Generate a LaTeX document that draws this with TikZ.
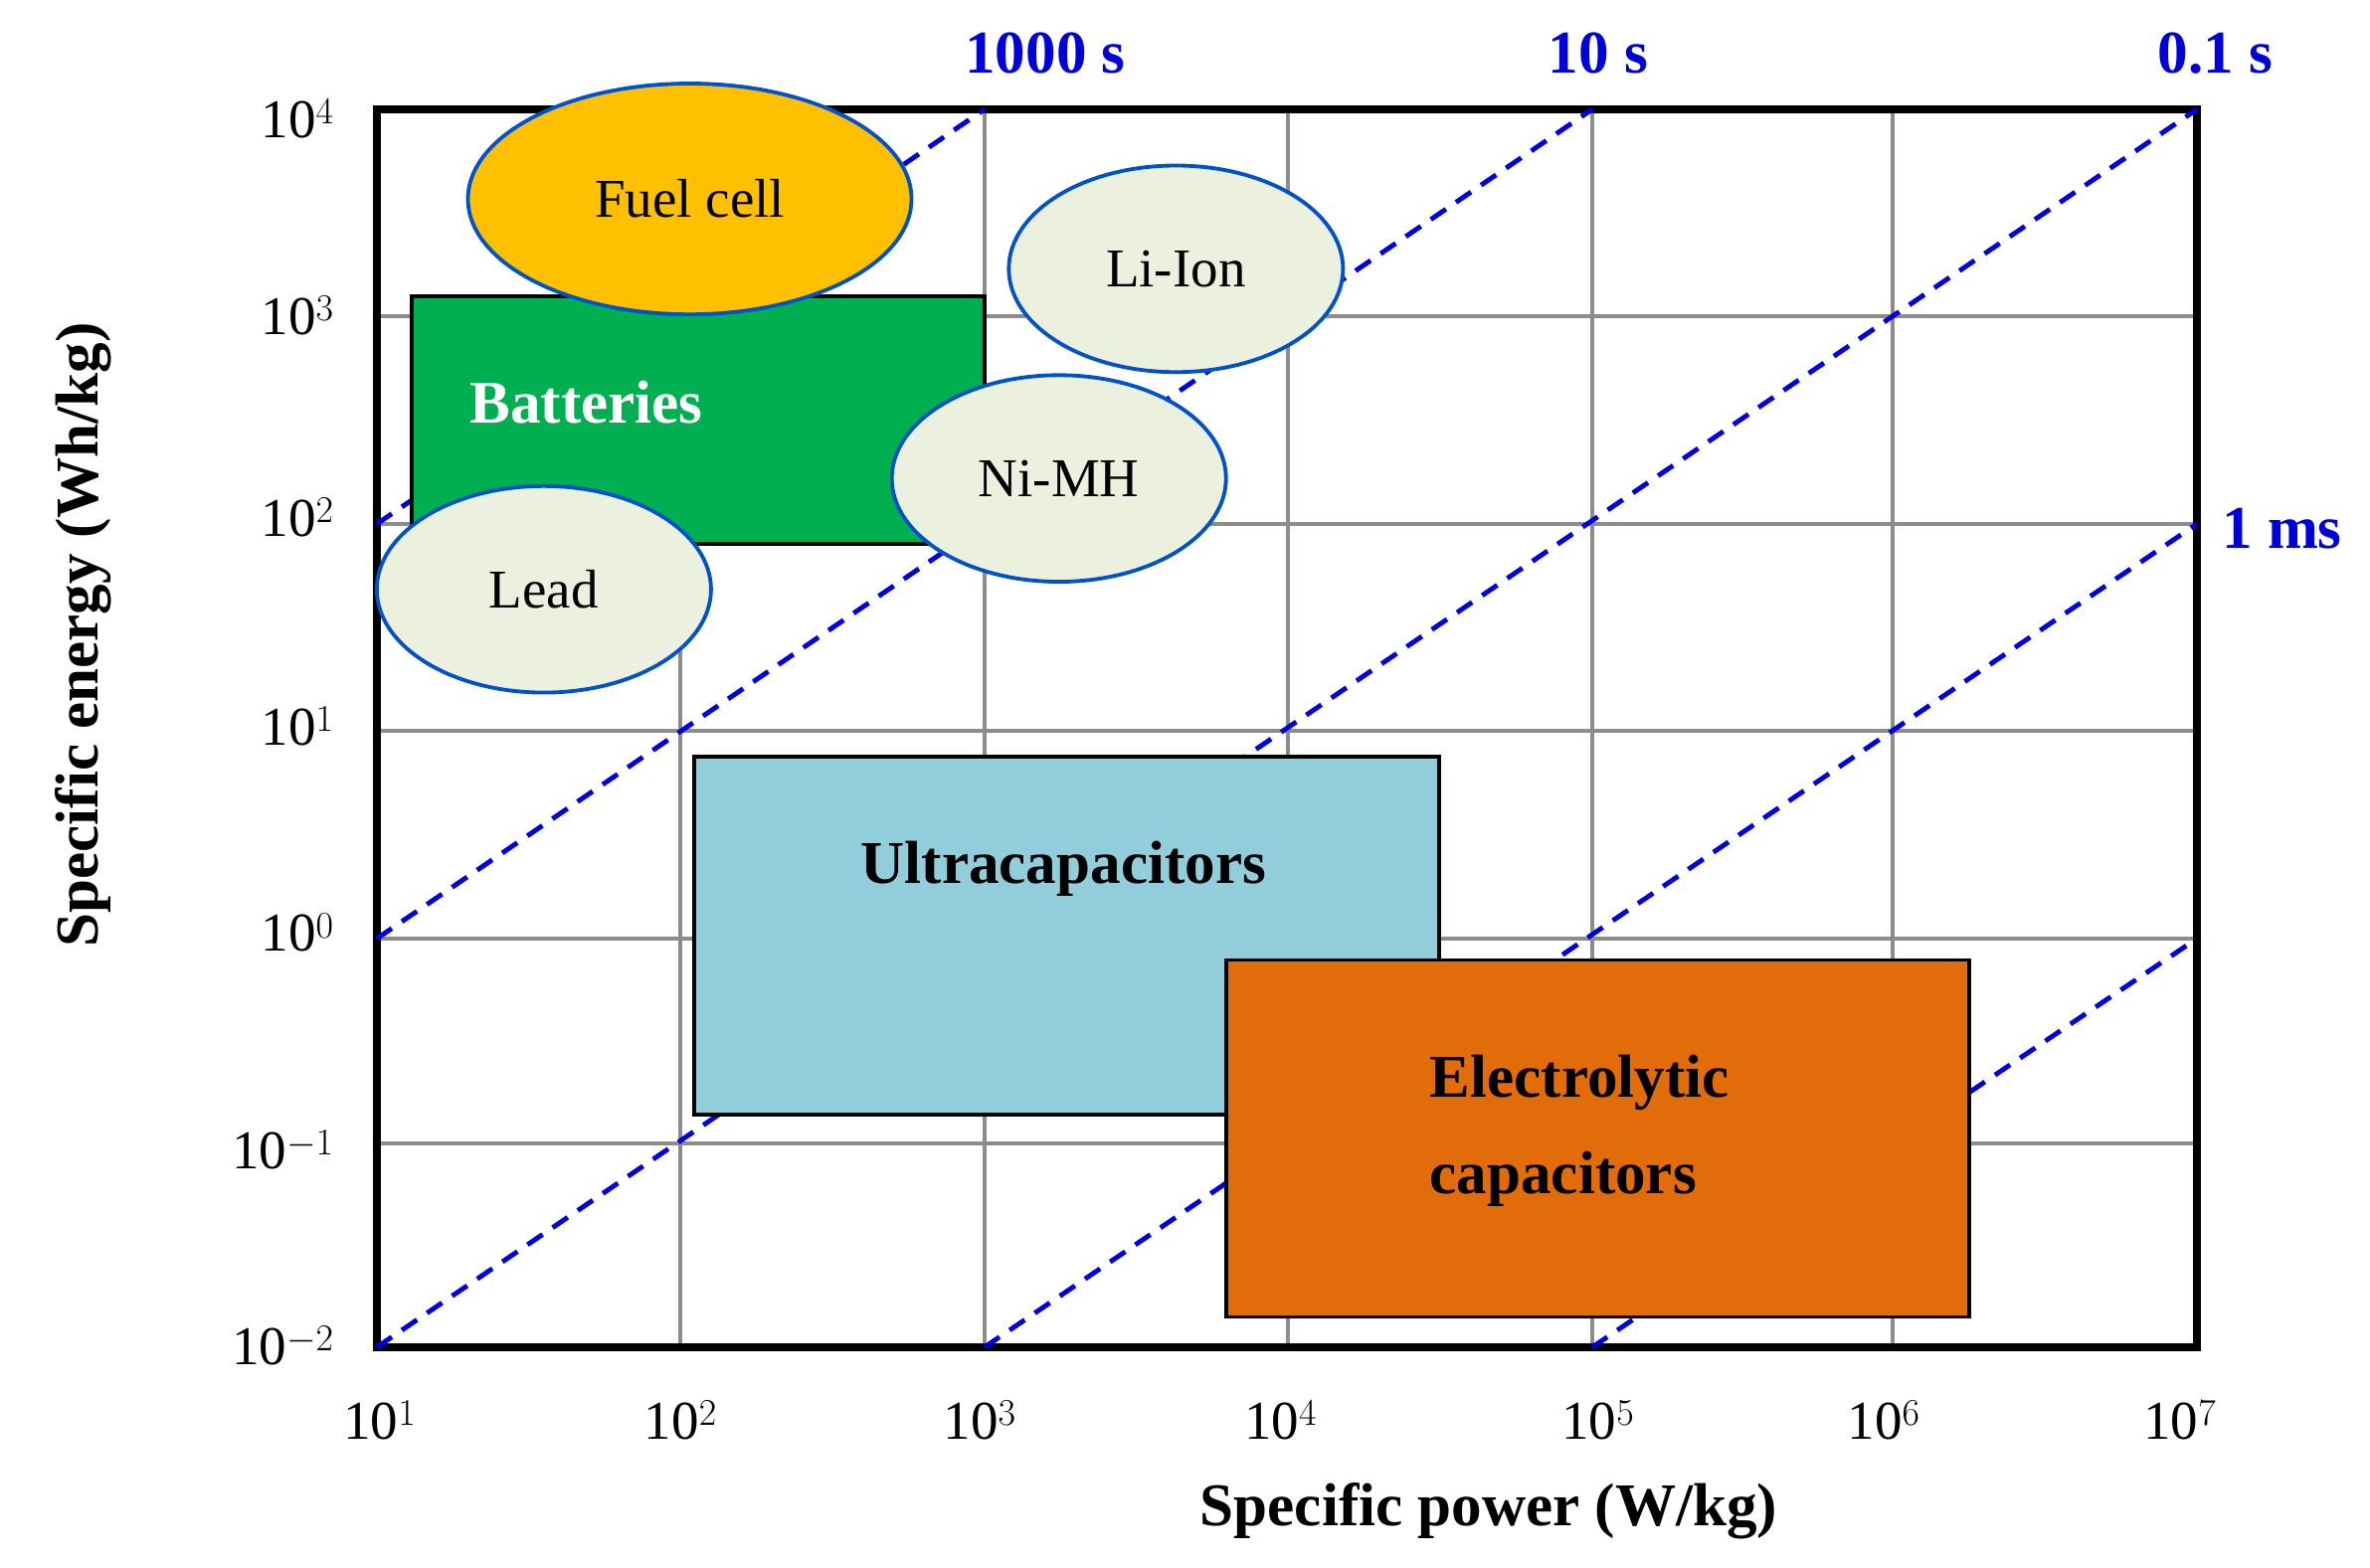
\documentclass[tikz,border=0pt]{standalone}
\usepackage{fontspec}
\setmainfont{Liberation Serif}
\begin{document}
\begin{tikzpicture}[x=1pt,y=-1pt,
  grid/.style={draw=gray!90,line width=2.5pt},
  tline/.style={draw=blue!90!black,line width=3.2pt,dash pattern=on 12pt off 8pt},
  tlab/.style={text=blue!85!black,font=\fontsize{40}{44}\selectfont\bfseries},
  ell/.style={ellipse,draw=blue!60!cyan!80!black,line width=2.5pt,fill={rgb,255:red,235;green,241;blue,222},minimum width=220pt,minimum height=136pt,font=\fontsize{36}{40}\selectfont},
  box/.style={draw=black,line width=2.5pt},
  tick/.style={font=\fontsize{36}{40}\selectfont}]
\useasboundingbox (0,0) rectangle (1560,1032);
\tikzset{every node/.append style={inner sep=0pt}}
% grid
\foreach \x in {448,648,848,1048,1246} \draw[grid] (\x,72) -- (\x,887);
\foreach \y in {208,345,481,618,753} \draw[grid] (248,\y) -- (1446,\y);
% frame
\draw[line width=5pt] (248,72) rectangle (1446,887);
% time lines
\coordinate (a1) at (248,345); \coordinate (a2) at (648,72);
\coordinate (b1) at (248,618); \coordinate (b2) at (1048,72);
\coordinate (c1) at (248,887); \coordinate (c2) at (1446,72);
\coordinate (d1) at (648,887); \coordinate (d2) at (1446,345);
\coordinate (e1) at (1048,887); \coordinate (e2) at (1446,618);
\draw[tline] (a1) -- (a2); \draw[tline] (b1) -- (b2); \draw[tline] (c1) -- (c2);
\draw[tline] (d1) -- (d2); \draw[tline] (e1) -- (e2);
\node[tlab] (la) at (688,35) {1000 s};
\node[tlab] (lb) at (1052,35) {10 s};
\node[tlab] (lc) at (1458,35) {0.1 s};
\node[tlab] (ld) at (1502,348) {1 ms};
% shapes
\usetikzlibrary{shapes.geometric}
\draw[box,fill={rgb,255:red,0;green,176;blue,80}] (271,195) rectangle (648,358);
\node[text=white,font=\fontsize{40}{44}\selectfont\bfseries] (bat) at (386,265) {Batteries};
\node[ell,fill={rgb,255:red,255;green,192;blue,0},minimum width=292pt,minimum height=152pt] (fc) at (454,131) {Fuel cell};
\node[ell] (li) at (774,177) {Li-Ion};
\node[ell] (ni) at (697,315) {Ni-MH};
\node[ell] (lead) at (358,388) {Lead};
\draw[box,fill={rgb,255:red,146;green,205;blue,220}] (457,498) rectangle (947,734);
\node[font=\fontsize{40}{44}\selectfont\bfseries] (uc) at (700,572) {Ultracapacitors};
\draw[box,fill={rgb,255:red,226;green,107;blue,10}] (807,632) rectangle (1296,867);
\node[font=\fontsize{40}{44}\selectfont\bfseries,anchor=west] (el1) at (941,713) {Electrolytic};
\node[font=\fontsize{40}{44}\selectfont\bfseries,anchor=west] (el2) at (941,776) {capacitors};
% ticks
\foreach \y/\e in {78/4,208/3,341/2,478/1,614/0} \node[tick,anchor=east] at (220,\y) {10$^{\e}$};
\node[tick,anchor=east] at (220,757) {10$^{-1}$};
\node[tick,anchor=east] at (220,886) {10$^{-2}$};
\foreach \x/\e in {250/1,448/2,645/3,843/4,1052/5,1240/6,1435/7} \node[tick] at (\x,935) {10$^{\e}$};
\node[font=\fontsize{40}{44}\selectfont\bfseries] (xl) at (980,995) {Specific power (W/kg)};
\node[font=\fontsize{40}{44}\selectfont\bfseries,rotate=90] (yl) at (55,418) {Specific energy (Wh/kg)};
\end{tikzpicture}
\end{document}
